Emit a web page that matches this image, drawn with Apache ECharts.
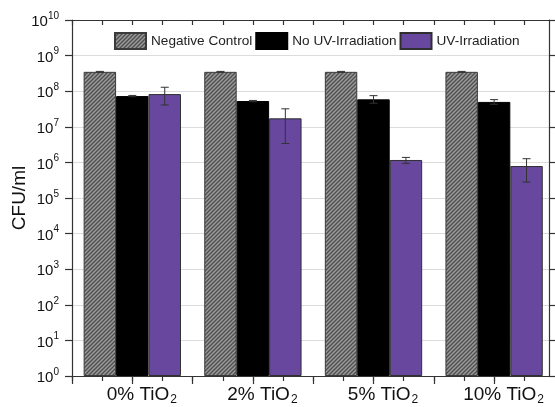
<!DOCTYPE html>
<html>
<head>
<meta charset="utf-8">
<script src="https://cdn.jsdelivr.net/npm/echarts@6/dist/echarts.min.js"></script>
<style>
html,body{margin:0;padding:0;background:#fff;}
#chart{width:555px;height:407px;}
</style>
</head>
<body>
<div id="chart"></div>
<script>
// ---- data ----
var categories = ['0% TiO', '2% TiO', '5% TiO', '10% TiO'];
var categorySub = ['2', '2', '2', '2'];
var seriesNames = ['Negative Control', 'No UV-Irradiation', 'UV-Irradiation'];
var negativeControl = [3.5e8, 3.5e8, 3.5e8, 3.5e8];
var negativeControlErrLow = [3.4e8, 3.4e8, 3.4e8, 3.4e8];
var negativeControlErrHigh = [3.6e8, 3.6e8, 3.6e8, 3.6e8];
var noUV = [7.3e7, 5.3e7, 5.9e7, 5.0e7];
var noUVErrLow = [7.0e7, 5.1e7, 4.6e7, 4.3e7];
var noUVErrHigh = [7.6e7, 5.5e7, 7.5e7, 5.8e7];
var uv = [8.3e7, 1.73e7, 1.17e6, 7.9e5];
var uvErrLow = [4.1e7, 3.4e6, 9.4e5, 2.8e5];
var uvErrHigh = [1.29e8, 3.2e7, 1.38e6, 1.27e6];
var yMin = 1, yMax = 1e10;

// ---- hatched pattern for the negative control ----
function makeHatch() {
  var s = 4;
  var c = document.createElement('canvas');
  c.width = s; c.height = s;
  var g = c.getContext('2d');
  g.fillStyle = '#9a9a9a';
  g.fillRect(0, 0, s, s);
  g.strokeStyle = '#4e4e4e';
  g.lineWidth = 1.3;
  g.beginPath();
  g.moveTo(0, s); g.lineTo(s, 0);
  g.moveTo(-1, 1); g.lineTo(1, -1);
  g.moveTo(s - 1, s + 1); g.lineTo(s + 1, s - 1);
  g.stroke();
  return c;
}
var hatch = { image: makeHatch(), repeat: 'repeat' };

var FONT = 'Liberation Sans';
var bandPx = 120.6;
var plotLeft = 72, plotTop = 20, plotHeight = 356, plotWidth = 477;
var barPct = 0.269;
var axisColor = '#333';

// half-category and quarter-category slots for tick marks (built from categories)
var halfSlots = [''];
categories.forEach(function (c) { halfSlots.push(c, ''); });          // 9 points
var quarterSlots = [];
for (var q = 0; q < categories.length * 4 + 1; q++) quarterSlots.push('');  // 17 points

function errSeries(idx, low, high) {
  var data = [];
  for (var i = 0; i < categories.length; i++) data.push([i, low[i], high[i]]);
  return {
    type: 'custom',
    xAxisIndex: 0, yAxisIndex: 0,
    z: 5, silent: true, clip: false,
    data: data,
    encode: { x: 0, y: [1, 2] },
    renderItem: function (params, api) {
      var band = api.size([1, 1])[0];
      var off = (idx - 1) * band * barPct;
      var lo = api.coord([api.value(0), api.value(1)]);
      var hi = api.coord([api.value(0), api.value(2)]);
      var x = lo[0] + off;
      var cap = 4;
      var st = { stroke: '#333', lineWidth: 1 };
      return {
        type: 'group',
        children: [
          { type: 'line', shape: { x1: x, y1: lo[1], x2: x, y2: hi[1] }, style: st },
          { type: 'line', shape: { x1: x - cap, y1: lo[1], x2: x + cap, y2: lo[1] }, style: st },
          { type: 'line', shape: { x1: x - cap, y1: hi[1], x2: x + cap, y2: hi[1] }, style: st }
        ]
      };
    }
  };
}

function tickCat(pos, data, len, inside, lastIdx) {
  return {
    type: 'category', gridIndex: 0, position: pos, data: data, boundaryGap: false,
    axisLine: { show: false },
    axisTick: {
      show: true, inside: inside, length: len,
      interval: function (i) { return i < lastIdx; },
      lineStyle: { color: axisColor, width: 1.2 }
    },
    axisLabel: { show: false },
    splitLine: { show: false }
  };
}
var majorAxis = tickCat('bottom', halfSlots, 8, false, halfSlots.length - 1);
majorAxis.axisLabel = {
  show: true, margin: 8, interval: 0,
  formatter: function (v) {
    if (!v) return '';
    var k = categories.indexOf(v);
    return '{a|' + v + '}{s|' + categorySub[k] + '}';
  },
  rich: {
    a: { fontFamily: FONT, fontSize: 19, color: '#111', padding: [0, 0, 0, 19] },
    s: { fontFamily: FONT, fontSize: 12, color: '#111', padding: [10, 0, 0, 1] }
  }
};

var frameX = function (pos) {
  return {
    type: 'value', gridIndex: 1, position: pos, min: 0, max: 1,
    axisLine: { show: true, onZero: false, lineStyle: { color: axisColor, width: 1.2 } },
    axisTick: { show: false }, axisLabel: { show: false }, splitLine: { show: false }
  };
};

var chart = echarts.init(document.getElementById('chart'), null, { renderer: 'canvas' });
var option = {
  animation: false,
  backgroundColor: '#fff',
  textStyle: { fontFamily: FONT },
  legend: {
    left: 114, top: 32, padding: 0,
    icon: 'rect',
    itemWidth: 31, itemHeight: 16, itemGap: 3,
    textStyle: { fontFamily: FONT, fontSize: 13.6, color: '#222' },
    data: seriesNames
  },
  grid: [
    { left: plotLeft, top: plotTop, width: bandPx * 4, height: plotHeight, outerBoundsMode: 'none', containLabel: false },
    { left: plotLeft, top: plotTop, width: plotWidth, height: plotHeight, outerBoundsMode: 'none', containLabel: false }
  ],
  xAxis: [
    { type: 'category', gridIndex: 0, data: categories, show: false },
    majorAxis,
    tickCat('bottom', quarterSlots, 5, false, quarterSlots.length - 1),
    tickCat('top', quarterSlots, 5, true, quarterSlots.length - 1),
    frameX('bottom'),
    frameX('top')
  ],
  yAxis: [
    { type: 'log', gridIndex: 0, min: yMin, max: yMax, logBase: 10, interval: 1, show: false },
    {
      type: 'log', gridIndex: 1, position: 'left', min: yMin, max: yMax, logBase: 10, interval: 1,
      name: 'CFU/ml', nameLocation: 'middle', nameRotate: 90, nameGap: 43, nameMoveOverlap: false,
      nameTextStyle: { fontFamily: FONT, fontSize: 19, color: '#111' },
      axisLine: { show: true, onZero: false, lineStyle: { color: axisColor, width: 1.2 } },
      axisTick: { show: true, length: 7, lineStyle: { color: axisColor, width: 1.2 } },
      splitLine: { show: true, lineStyle: { color: '#dcdcdc', width: 1 } },
      axisLabel: {
        margin: 13, hideOverlap: false,
        formatter: function (v) {
          var e = Math.round(Math.log(v) / Math.LN10);
          return '{b|10}{p|' + e + '}';
        },
        rich: {
          b: { fontFamily: FONT, fontSize: 15, color: '#111', padding: [4, 0, 0, 0] },
          p: { fontFamily: FONT, fontSize: 10, color: '#111', padding: [0, 0, 8, 0] }
        }
      }
    },
    {
      type: 'log', gridIndex: 1, position: 'right', min: yMin, max: yMax, logBase: 10, interval: 1,
      axisLine: { show: true, onZero: false, lineStyle: { color: axisColor, width: 1.2 } },
      axisTick: { show: true, length: 7, lineStyle: { color: axisColor, width: 1.2 } },
      splitLine: { show: false },
      axisLabel: { show: false }
    }
  ],
  series: [
    {
      name: seriesNames[0], type: 'bar', xAxisIndex: 0, yAxisIndex: 0,
      data: negativeControl, barWidth: (barPct * 100) + '%', barGap: '0%',
      itemStyle: { color: hatch, borderColor: '#3a3a3a', borderWidth: 1 }
    },
    {
      name: seriesNames[1], type: 'bar', xAxisIndex: 0, yAxisIndex: 0,
      data: noUV, barWidth: (barPct * 100) + '%', barGap: '0%',
      itemStyle: { color: '#000', borderColor: '#000', borderWidth: 1 }
    },
    {
      name: seriesNames[2], type: 'bar', xAxisIndex: 0, yAxisIndex: 0,
      data: uv, barWidth: (barPct * 100) + '%', barGap: '0%',
      itemStyle: { color: '#68489e', borderColor: '#2f2f2f', borderWidth: 1 }
    },
    errSeries(0, negativeControlErrLow, negativeControlErrHigh),
    errSeries(1, noUVErrLow, noUVErrHigh),
    errSeries(2, uvErrLow, uvErrHigh)
  ]
};
chart.setOption(option);
</script>
</body>
</html>
